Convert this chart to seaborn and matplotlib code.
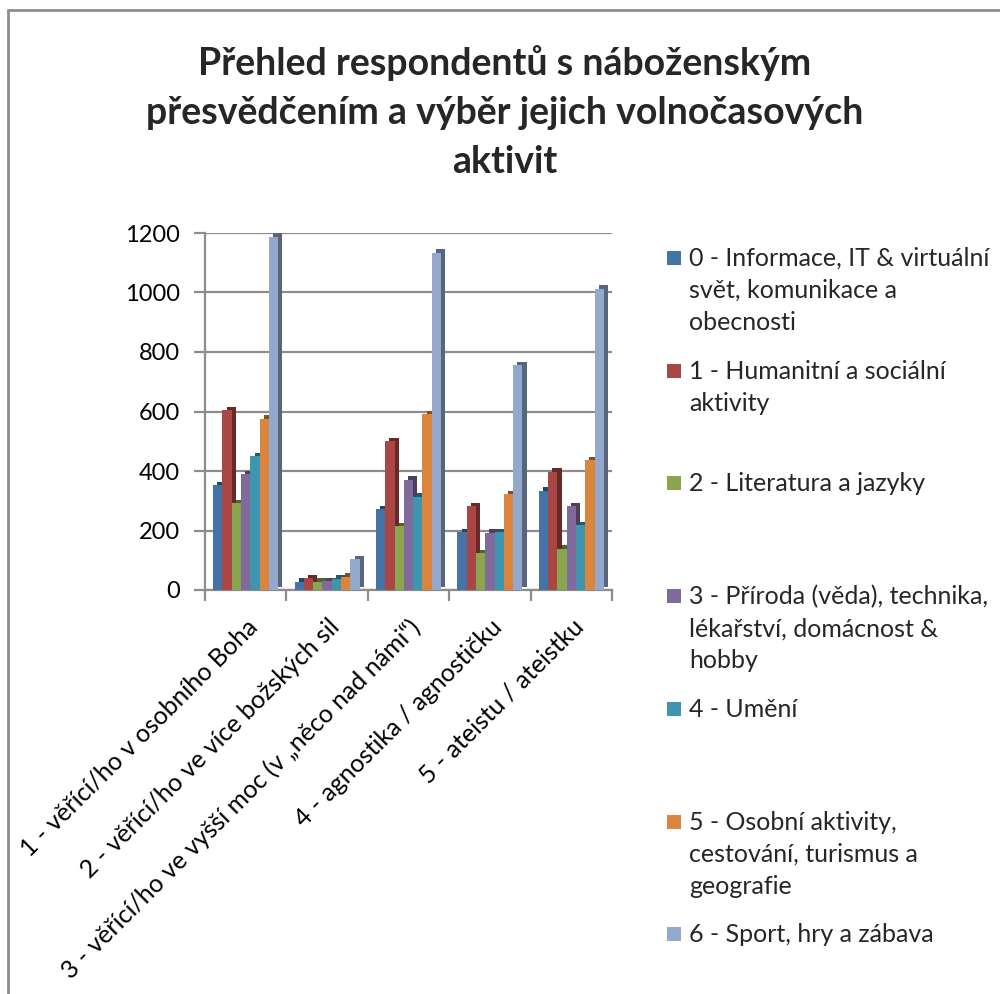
import matplotlib
matplotlib.use("Agg")
import matplotlib.pyplot as plt
import matplotlib.patheffects as pe
from matplotlib.patches import Rectangle
from matplotlib.lines import Line2D
import seaborn as sns
import pandas as pd

categories = [
    "1 - věřící/ho v osobního Boha",
    "2 - věřící/ho ve více božských sil",
    "3 - věřící/ho ve vyšší moc (v „něco nad námi“)",
    "4 - agnostika / agnostičku",
    "5 - ateistu / ateistku",
]
series_names = [
    "0 - Informace, IT & virtuální\nsvět, komunikace a\nobecnosti",
    "1 - Humanitní a sociální\naktivity",
    "2 - Literatura a jazyky",
    "3 - Příroda (věda), technika,\nlékařství, domácnost &\nhobby",
    "4 - Umění",
    "5 - Osobní aktivity,\ncestování, turismus a\ngeografie",
    "6 - Sport, hry a zábava",
]
s0_informace = [352, 27, 272, 195, 333]
s1_humanitni = [605, 40, 500, 282, 397]
s2_literatura = [292, 27, 215, 124, 138]
s3_priroda = [390, 30, 370, 192, 282]
s4_umeni = [450, 38, 313, 195, 218]
s5_osobni = [575, 45, 590, 322, 437]
s6_sport = [1187, 104, 1133, 756, 1012]
series_values = [s0_informace, s1_humanitni, s2_literatura, s3_priroda,
                 s4_umeni, s5_osobni, s6_sport]
colors = ["#4572A7", "#AA4643", "#89A54E", "#80699B", "#3D96AE", "#DB843D", "#92A8CD"]
yticks = [0, 200, 400, 600, 800, 1000, 1200]

rows = []
for name, vals in zip(series_names, series_values):
    for cat, v in zip(categories, vals):
        rows.append({"kategorie": cat, "aktivita": name, "počet": v})
df = pd.DataFrame(rows)

sns.set_theme(style="white")
plt.rcParams["font.family"] = ["Lato", "DejaVu Sans"]

fig = plt.figure(figsize=(10, 9.94), dpi=100)
ax = fig.add_axes([0.205, 1 - 590 / 994, 0.407, (590 - 233) / 994])

sns.barplot(data=df, x="kategorie", y="počet", hue="aktivita", order=categories,
            hue_order=series_names, palette=colors, width=0.8, gap=0,
            saturation=1, legend=False, ax=ax, zorder=3, linewidth=0,
            edgecolor="none")
for p in ax.patches:
    p.set_path_effects([pe.SimplePatchShadow(offset=(3, 2.5), shadow_rgbFace=None,
                                             rho=0.6, alpha=1.0), pe.Normal()])

ax.set_ylim(0, 1200)
ax.set_xlim(-0.5, len(categories) - 0.5)
ax.set_yticks(yticks)
ax.set_yticklabels([str(t) for t in yticks], fontsize=17)
ax.yaxis.grid(True, color="#8C8C8C", linewidth=1.6)
ax.set_axisbelow(True)
ax.set_xlabel("")
ax.set_ylabel("")
for s in ["top", "right"]:
    ax.spines[s].set_visible(False)
for s in ["left", "bottom"]:
    ax.spines[s].set_color("#8C8C8C")
    ax.spines[s].set_linewidth(1.6)
ax.tick_params(axis="y", which="major", left=True, length=8, width=1.6,
               color="#8C8C8C", pad=10, labelcolor="black")
ax.set_xticks(range(len(categories)))
ax.set_xticklabels(categories, rotation=45, ha="right", rotation_mode="anchor",
                   fontsize=18)
ax.tick_params(axis="x", which="major", bottom=False, pad=12, labelcolor="black")
ax.set_xticks([i - 0.5 for i in range(len(categories) + 1)], minor=True)
ax.tick_params(axis="x", which="minor", bottom=True, length=8, width=1.6,
               color="#8C8C8C")

fig.text(0.505, 1 - 112 / 994,
         "Přehled respondentů s náboženským\npřesvědčením a výběr jejich volnočasových\naktivit",
         ha="center", va="center", fontsize=27, fontweight="bold", linespacing=1.55)

# legend
W, H = 1000, 994
for i, (name, col) in enumerate(zip(series_names, colors)):
    cy = 258 + 112.7 * i
    fig.add_artist(Rectangle((667 / W, 1 - (cy + 7) / H), 14 / W, 14 / H,
                             transform=fig.transFigure, facecolor=col,
                             edgecolor="none"))
    for k, line in enumerate(name.split("\n")):
        fig.text(689 / W, 1 - (cy + 8 + 32 * k) / H, line, ha="left",
                 va="baseline", fontsize=18)

# chart border
fig.add_artist(Line2D([8 / W, 8 / W], [0, 1 - 10 / H], transform=fig.transFigure,
                      color="#8C8C8C", linewidth=2))
fig.add_artist(Line2D([8 / W, 1], [1 - 10 / H, 1 - 10 / H], transform=fig.transFigure,
                      color="#8C8C8C", linewidth=2))

fig.savefig("out.png", dpi=100)
